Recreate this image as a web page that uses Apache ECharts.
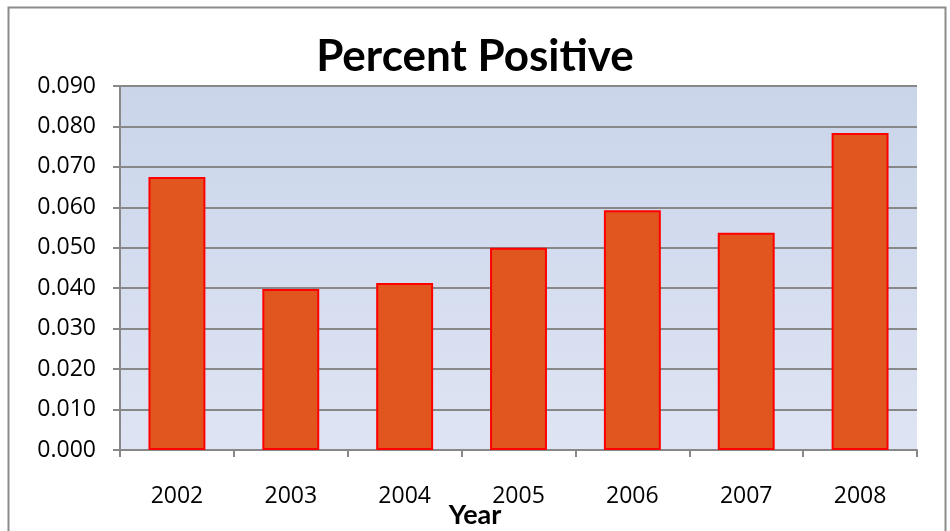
<!DOCTYPE html>
<html>
<head>
<meta charset="utf-8">
<style>
  html, body { margin: 0; padding: 0; background: #fff; overflow: hidden; }
  #chart { width: 950px; height: 531px; }
</style>
<script src="https://cdn.jsdelivr.net/npm/echarts@6/dist/echarts.min.js"></script>
</head>
<body>
<div id="chart"></div>
<script>
var years = ['2002', '2003', '2004', '2005', '2006', '2007', '2008'];
var percentPositive = [0.0675, 0.0398, 0.0413, 0.0500, 0.0593, 0.0537, 0.0784];

var chart = echarts.init(document.getElementById('chart'), null, { renderer: 'canvas' });

chart.setOption({
  animation: false,
  title: [{
    text: 'Percent Positive',
    left: 'center',
    top: 30,
    textStyle: { fontFamily: 'Lato', fontWeight: 'bold', fontSize: 44, color: '#000' }
  }, {
    text: 'Year',
    left: 'center',
    top: 497,
    textStyle: { fontFamily: 'Lato', fontWeight: 'bold', fontSize: 27, color: '#000' }
  }],
  graphic: [{
    type: 'rect',
    shape: { x: 8.5, y: 7.5, width: 937, height: 530 },
    style: { fill: 'none', stroke: '#8c8c8c', lineWidth: 2 },
    silent: true
  }],
  grid: {
    left: 120, right: 33, top: 86, bottom: 81,
    show: true,
    borderWidth: 0,
    backgroundColor: {
      type: 'linear', x: 0, y: 0, x2: 0, y2: 1,
      colorStops: [{ offset: 0, color: '#cad5ea' }, { offset: 1, color: '#dee4f3' }]
    }
  },
  xAxis: {
    type: 'category',
    data: years,
    axisLine: { lineStyle: { color: '#888', width: 2 } },
    axisTick: { show: true, length: 7, lineStyle: { color: '#888', width: 2 } },
    axisLabel: { margin: 35, fontFamily: 'Open Sans', fontSize: 23, color: '#000' }
  },
  yAxis: {
    type: 'value',
    min: 0,
    max: 0.09,
    interval: 0.01,
    axisLine: { show: true, lineStyle: { color: '#888', width: 2 } },
    axisTick: { show: true, length: 7, lineStyle: { color: '#888', width: 2 } },
    axisLabel: {
      margin: 24, fontFamily: 'Open Sans', fontSize: 23, color: '#000',
      formatter: function(v) { return v.toFixed(3); }
    },
    splitLine: { lineStyle: { color: '#888', width: 2 } }
  },
  series: [{
    name: 'Percent Positive',
    type: 'bar',
    data: percentPositive,
    barWidth: '50%',
    itemStyle: { color: '#e0561e', borderColor: '#ff0000', borderWidth: 2 }
  }]
});
</script>
</body>
</html>
